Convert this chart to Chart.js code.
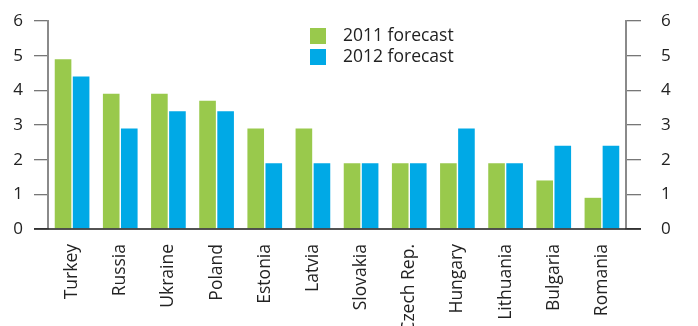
<!DOCTYPE html>
<html>
<head>
<meta charset="utf-8">
<script src="https://cdn.jsdelivr.net/npm/chart.js@4"></script>
<style>
html,body{margin:0;padding:0;background:#fff;}
#wrap{width:698px;height:326px;position:relative;}
</style>
</head>
<body>
<div id="wrap"><canvas id="c" width="698" height="326"></canvas></div>
<script>
const categories = ["Turkey","Russia","Ukraine","Poland","Estonia","Latvia","Slovakia","Czech Rep.","Hungary","Lithuania","Bulgaria","Romania"];
const forecast2011 = [4.9,3.9,3.9,3.7,2.9,2.9,1.9,1.9,1.9,1.9,1.4,0.9];
const forecast2012 = [4.4,2.9,3.4,3.4,1.9,1.9,1.9,1.9,2.9,1.9,2.4,2.4];
const yTicks = [0,1,2,3,4,5,6];
const seriesLabels = ["2011 forecast","2012 forecast"];
const colors = ["#99c94c","#00a9e6"];
const FONT = "'Open Sans', 'DejaVu Sans', sans-serif";
const TXT = "#222";

const legendPlugin = {
  id: 'customLegend',
  afterDraw(chart){
    const ctx = chart.ctx;
    ctx.save();
    ctx.font = "17.5px " + FONT;
    ctx.textBaseline = 'middle';
    chart.data.datasets.forEach((ds,i)=>{
      const x = 310, y = 28 + i*21;
      ctx.fillStyle = ds.backgroundColor;
      ctx.fillRect(x, y, 16, 16);
      ctx.fillStyle = TXT;
      ctx.fillText(ds.label, x + 33, y + 8);
    });
    ctx.restore();
  }
};
const baselinePlugin = {
  id: 'baseline',
  afterDatasetsDraw(chart){
    const y = chart.scales.y.getPixelForValue(0);
    const ctx = chart.ctx;
    ctx.save();
    ctx.strokeStyle = "#1a1a1a";
    ctx.lineWidth = 1.5;
    ctx.beginPath();
    ctx.moveTo(chart.chartArea.left - 14, y);
    ctx.lineTo(chart.chartArea.right + 15, y);
    ctx.stroke();
    ctx.restore();
  }
};
function fitY(w){ return function(s){ s.width = w; s.paddingTop = 0; s.paddingBottom = 0; }; }

new Chart(document.getElementById('c'), {
  type: 'bar',
  data: {
    labels: categories,
    datasets: [
      {label: seriesLabels[0], data: forecast2011, backgroundColor: colors[0], categoryPercentage: 0.75, barPercentage: 0.92},
      {label: seriesLabels[1], data: forecast2012, backgroundColor: colors[1], categoryPercentage: 0.75, barPercentage: 0.92}
    ]
  },
  options: {
    responsive: false,
    animation: false,
    layout: {padding: {top: 21, left: 0, right: 0, bottom: 0}},
    plugins: {legend: {display: false}, tooltip: {enabled: false}},
    scales: {
      x: {
        grid: {display: false, drawTicks: false},
        border: {display: false},
        ticks: {color: TXT, font: {family: FONT, size: 17.5}, minRotation: 90, maxRotation: 90, padding: 15, autoSkip: false},
        afterFit(s){ s.height = 97; }
      },
      y: {
        position: 'left', min: 0, max: 6,
        afterBuildTicks(s){ s.ticks = yTicks.map(v=>({value:v})); },
        grid: {drawOnChartArea: false, drawTicks: true, tickLength: 14, color: "#777", lineWidth: 1.3},
        border: {display: true, color: "#8a8a8a", width: 2},
        ticks: {color: TXT, font: {family: FONT, size: 17}, padding: 11},
        afterFit: fitY(48)
      },
      y2: {
        position: 'right', min: 0, max: 6,
        afterBuildTicks(s){ s.ticks = yTicks.map(v=>({value:v})); },
        grid: {drawOnChartArea: false, drawTicks: true, tickLength: 15, color: "#777", lineWidth: 1.3},
        border: {display: true, color: "#8a8a8a", width: 2},
        ticks: {color: TXT, font: {family: FONT, size: 17}, padding: 20},
        afterFit: fitY(72)
      }
    }
  },
  plugins: [legendPlugin, baselinePlugin]
});
</script>
</body>
</html>
